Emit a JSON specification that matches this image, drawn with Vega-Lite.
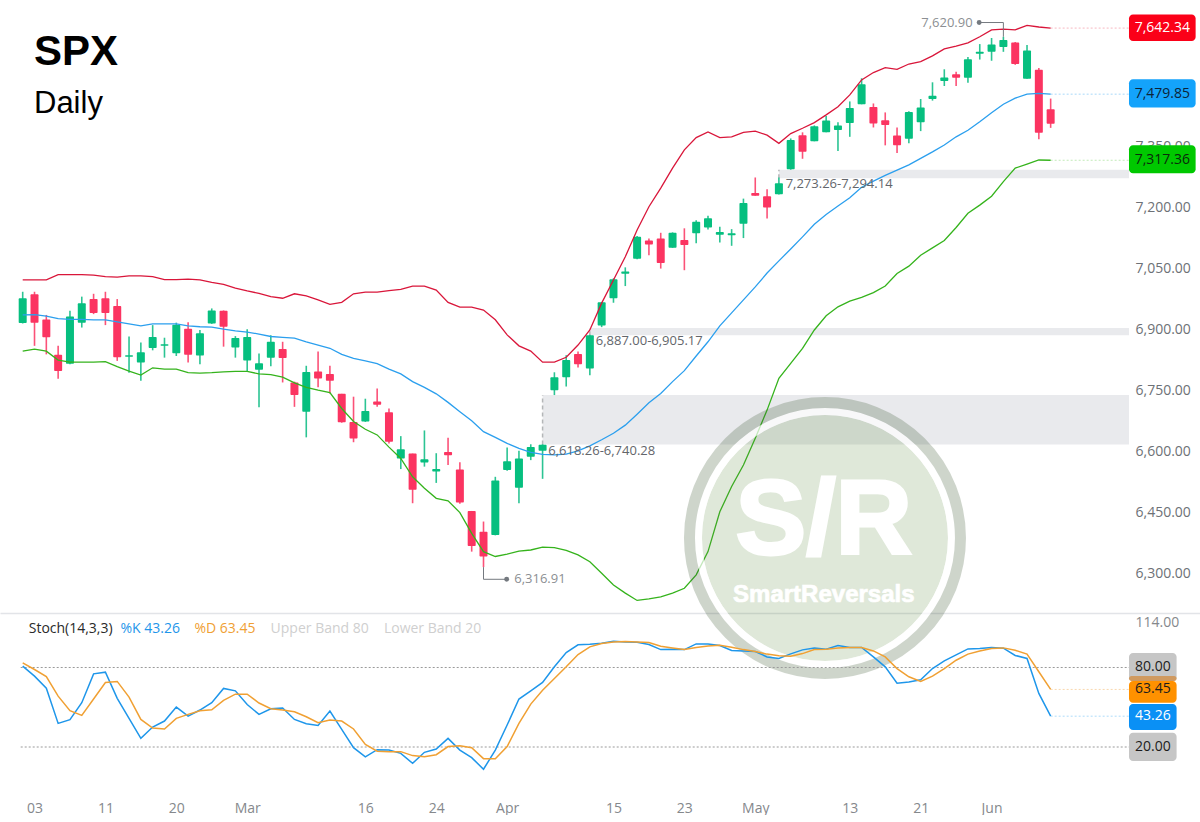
{
  "$schema": "https://vega.github.io/schema/vega-lite/v6.json",
  "padding": 0,
  "background": "white",
  "bounds": "flush",
  "spacing": 0,
  "config": {"view": {"stroke": null}, "font": "Open Sans"},
  "datasets": {
    "bars": [
      {"i":0,"o":6917,"h":6994,"l":6916,"c":6978,"dir":"up","upper":7023,"mid":6937,"lower":6848,"k":81.0,"d":83.5},
      {"i":1,"o":6988,"h":6994,"l":6861,"c":6918,"dir":"down","upper":7023,"mid":6938,"lower":6853,"k":73.5,"d":78.5},
      {"i":2,"o":6926,"h":6937,"l":6840,"c":6882,"dir":"down","upper":7023,"mid":6934,"lower":6848,"k":64.4,"d":73.2},
      {"i":3,"o":6839,"h":6861,"l":6780,"c":6799,"dir":"down","upper":7036,"mid":6928,"lower":6826,"k":37.8,"d":58.4},
      {"i":4,"o":6817,"h":6947,"l":6816,"c":6933,"dir":"up","upper":7036,"mid":6926,"lower":6821,"k":40.6,"d":47.4},
      {"i":5,"o":6918,"h":6982,"l":6906,"c":6966,"dir":"up","upper":7036,"mid":6926,"lower":6821,"k":53.4,"d":43.9},
      {"i":6,"o":6976,"h":6989,"l":6939,"c":6942,"dir":"down","upper":7035,"mid":6925,"lower":6821,"k":75.2,"d":56.2},
      {"i":7,"o":6978,"h":6994,"l":6912,"c":6942,"dir":"down","upper":7031,"mid":6925,"lower":6822,"k":76.5,"d":68.7},
      {"i":8,"o":6959,"h":6976,"l":6824,"c":6833,"dir":"down","upper":7030,"mid":6920,"lower":6810,"k":56.7,"d":69.5},
      {"i":9,"o":6834,"h":6884,"l":6795,"c":6838,"dir":"up","upper":7033,"mid":6915,"lower":6799,"k":41.6,"d":57.7},
      {"i":10,"o":6820,"h":6869,"l":6775,"c":6845,"dir":"up","upper":7033,"mid":6910,"lower":6789,"k":26.5,"d":40.8},
      {"i":11,"o":6856,"h":6912,"l":6850,"c":6883,"dir":"up","upper":7031,"mid":6915,"lower":6807,"k":35.1,"d":34.3},
      {"i":12,"o":6861,"h":6881,"l":6832,"c":6865,"dir":"up","upper":7024,"mid":6915,"lower":6804,"k":39.6,"d":33.6},
      {"i":13,"o":6843,"h":6918,"l":6836,"c":6913,"dir":"up","upper":7024,"mid":6915,"lower":6804,"k":50.1,"d":41.6},
      {"i":14,"o":6903,"h":6919,"l":6820,"c":6839,"dir":"down","upper":7025,"mid":6910,"lower":6795,"k":43.3,"d":44.6},
      {"i":15,"o":6837,"h":6900,"l":6816,"c":6892,"dir":"up","upper":7023,"mid":6908,"lower":6794,"k":47.9,"d":47.4},
      {"i":16,"o":6916,"h":6953,"l":6915,"c":6948,"dir":"up","upper":7017,"mid":6907,"lower":6795,"k":53.4,"d":48.1},
      {"i":17,"o":6947,"h":6948,"l":6859,"c":6908,"dir":"down","upper":7012,"mid":6902,"lower":6797,"k":64.2,"d":55.2},
      {"i":18,"o":6857,"h":6885,"l":6832,"c":6880,"dir":"up","upper":7003,"mid":6898,"lower":6798,"k":62.4,"d":59.9},
      {"i":19,"o":6825,"h":6902,"l":6797,"c":6883,"dir":"up","upper":6996,"mid":6895,"lower":6798,"k":52.1,"d":59.9},
      {"i":20,"o":6802,"h":6842,"l":6710,"c":6818,"dir":"up","upper":6990,"mid":6890,"lower":6792,"k":44.6,"d":53.2},
      {"i":21,"o":6832,"h":6887,"l":6811,"c":6871,"dir":"up","upper":6982,"mid":6884,"lower":6790,"k":48.9,"d":48.9},
      {"i":22,"o":6853,"h":6871,"l":6771,"c":6831,"dir":"down","upper":6978,"mid":6882,"lower":6784,"k":49.4,"d":47.9},
      {"i":23,"o":6771,"h":6773,"l":6711,"c":6740,"dir":"down","upper":6989,"mid":6880,"lower":6770,"k":40.8,"d":46.6},
      {"i":24,"o":6699,"h":6812,"l":6636,"c":6797,"dir":"up","upper":6984,"mid":6871,"lower":6759,"k":37.6,"d":42.8},
      {"i":25,"o":6798,"h":6847,"l":6759,"c":6781,"dir":"down","upper":6974,"mid":6863,"lower":6752,"k":36.3,"d":38.3},
      {"i":26,"o":6792,"h":6812,"l":6744,"c":6775,"dir":"down","upper":6963,"mid":6855,"lower":6746,"k":47.1,"d":40.3},
      {"i":27,"o":6743,"h":6743,"l":6672,"c":6673,"dir":"down","upper":6968,"mid":6840,"lower":6707,"k":33.3,"d":39.6},
      {"i":28,"o":6674,"h":6736,"l":6624,"c":6633,"dir":"down","upper":6989,"mid":6830,"lower":6675,"k":19.5,"d":33.6},
      {"i":29,"o":6675,"h":6731,"l":6674,"c":6701,"dir":"up","upper":6993,"mid":6824,"lower":6656,"k":12.5,"d":22.0},
      {"i":30,"o":6724,"h":6756,"l":6711,"c":6716,"dir":"down","upper":6993,"mid":6817,"lower":6642,"k":18.0,"d":16.8},
      {"i":31,"o":6698,"h":6707,"l":6621,"c":6625,"dir":"down","upper":6997,"mid":6804,"lower":6612,"k":17.7,"d":16.5},
      {"i":32,"o":6584,"h":6639,"l":6558,"c":6607,"dir":"up","upper":7000,"mid":6792,"lower":6584,"k":15.2,"d":16.5},
      {"i":33,"o":6596,"h":6596,"l":6474,"c":6507,"dir":"down","upper":7008,"mid":6773,"lower":6539,"k":7.7,"d":13.5},
      {"i":34,"o":6574,"h":6653,"l":6564,"c":6582,"dir":"up","upper":7008,"mid":6759,"lower":6511,"k":16.0,"d":12.7},
      {"i":35,"o":6552,"h":6597,"l":6524,"c":6558,"dir":"up","upper":6998,"mid":6743,"lower":6486,"k":18.5,"d":14.2},
      {"i":36,"o":6600,"h":6635,"l":6568,"c":6592,"dir":"down","upper":6968,"mid":6722,"lower":6480,"k":26.5,"d":20.3},
      {"i":37,"o":6557,"h":6575,"l":6473,"c":6476,"dir":"down","upper":6956,"mid":6699,"lower":6451,"k":17.7,"d":21.0},
      {"i":38,"o":6455,"h":6455,"l":6355,"c":6369,"dir":"down","upper":6956,"mid":6677,"lower":6400,"k":12.0,"d":19.5},
      {"i":39,"o":6404,"h":6429,"l":6316.91,"c":6343,"dir":"down","upper":6949,"mid":6650,"lower":6355,"k":3.2,"d":11.2},
      {"i":40,"o":6396,"h":6539,"l":6395,"c":6530,"dir":"up","upper":6925,"mid":6636,"lower":6343,"k":17.7,"d":11.2},
      {"i":41,"o":6556,"h":6611,"l":6554,"c":6577,"dir":"up","upper":6888,"mid":6621,"lower":6349,"k":36.6,"d":20.3},
      {"i":42,"o":6512,"h":6603,"l":6474,"c":6584,"dir":"up","upper":6861,"mid":6609,"lower":6356,"k":56.2,"d":37.8},
      {"i":43,"o":6588,"h":6619,"l":6580,"c":6612,"dir":"up","upper":6848,"mid":6599,"lower":6359,"k":62.4,"d":52.4},
      {"i":44,"o":6603,"h":6619,"l":6534,"c":6618,"dir":"up","upper":6821,"mid":6594,"lower":6366,"k":68.7,"d":62.9},
      {"i":45,"o":6752,"h":6796,"l":6740,"c":6784,"dir":"up","upper":6821,"mid":6593,"lower":6365,"k":80.5,"d":71.7},
      {"i":46,"o":6784,"h":6838,"l":6761,"c":6826,"dir":"up","upper":6833,"mid":6595,"lower":6358,"k":91.3,"d":80.5},
      {"i":47,"o":6841,"h":6847,"l":6808,"c":6816,"dir":"down","upper":6863,"mid":6603,"lower":6347,"k":97.1,"d":89.8},
      {"i":48,"o":6805,"h":6888,"l":6789,"c":6887,"dir":"up","upper":6900,"mid":6615,"lower":6330,"k":97.6,"d":95.6},
      {"i":49,"o":6911,"h":6969,"l":6907,"c":6968,"dir":"up","upper":6966,"mid":6630,"lower":6302,"k":98.3,"d":98.1},
      {"i":50,"o":6978,"h":7027,"l":6967,"c":7025,"dir":"up","upper":7023,"mid":6646,"lower":6273,"k":99.8,"d":99.3},
      {"i":51,"o":7038,"h":7054,"l":7008,"c":7044,"dir":"up","upper":7080,"mid":6666,"lower":6253,"k":99.3,"d":99.6},
      {"i":52,"o":7075,"h":7131,"l":7074,"c":7129,"dir":"up","upper":7146,"mid":6693,"lower":6235,"k":99.1,"d":99.3},
      {"i":53,"o":7120,"h":7125,"l":7084,"c":7110,"dir":"down","upper":7203,"mid":6721,"lower":6239,"k":97.3,"d":98.8},
      {"i":54,"o":7125,"h":7139,"l":7051,"c":7065,"dir":"down","upper":7249,"mid":6744,"lower":6244,"k":93.5,"d":96.1},
      {"i":55,"o":7102,"h":7140,"l":7102,"c":7139,"dir":"up","upper":7298,"mid":6773,"lower":6253,"k":93.8,"d":94.8},
      {"i":56,"o":7121,"h":7150,"l":7047,"c":7109,"dir":"down","upper":7343,"mid":6800,"lower":6265,"k":93.5,"d":93.5},
      {"i":57,"o":7138,"h":7170,"l":7113,"c":7166,"dir":"up","upper":7373,"mid":6836,"lower":6298,"k":97.8,"d":95.1},
      {"i":58,"o":7152,"h":7181,"l":7147,"c":7175,"dir":"up","upper":7387,"mid":6871,"lower":6355,"k":97.8,"d":96.3},
      {"i":59,"o":7134,"h":7154,"l":7115,"c":7141,"dir":"up","upper":7373,"mid":6910,"lower":6453,"k":96.6,"d":96.8},
      {"i":60,"o":7133,"h":7148,"l":7107,"c":7138,"dir":"up","upper":7375,"mid":6942,"lower":6515,"k":92.8,"d":95.3},
      {"i":61,"o":7161,"h":7223,"l":7126,"c":7212,"dir":"up","upper":7386,"mid":6974,"lower":6568,"k":92.5,"d":93.5},
      {"i":62,"o":7237,"h":7275,"l":7230,"c":7230,"dir":"down","upper":7389,"mid":7006,"lower":6634,"k":92.0,"d":92.0},
      {"i":63,"o":7229,"h":7246,"l":7174,"c":7201,"dir":"down","upper":7379,"mid":7040,"lower":6703,"k":88.0,"d":90.1},
      {"i":64,"o":7234,"h":7275,"l":7233,"c":7261,"dir":"up","upper":7359,"mid":7070,"lower":6781,"k":86.8,"d":88.8},
      {"i":65,"o":7295,"h":7371,"l":7294.14,"c":7367,"dir":"up","upper":7383,"mid":7099,"lower":6818,"k":90.3,"d":88.5},
      {"i":66,"o":7379,"h":7386,"l":7321,"c":7338,"dir":"down","upper":7396,"mid":7129,"lower":6855,"k":93.3,"d":90.5},
      {"i":67,"o":7364,"h":7403,"l":7364,"c":7401,"dir":"up","upper":7410,"mid":7160,"lower":6900,"k":94.8,"d":93.5},
      {"i":68,"o":7386,"h":7426,"l":7386,"c":7415,"dir":"up","upper":7429,"mid":7184,"lower":6935,"k":93.8,"d":93.8},
      {"i":69,"o":7392,"h":7411,"l":7340,"c":7403,"dir":"up","upper":7449,"mid":7205,"lower":6957,"k":96.6,"d":94.8},
      {"i":70,"o":7409,"h":7462,"l":7375,"c":7446,"dir":"up","upper":7478,"mid":7225,"lower":6971,"k":95.1,"d":95.1},
      {"i":71,"o":7455,"h":7519,"l":7455,"c":7504,"dir":"up","upper":7515,"mid":7251,"lower":6980,"k":95.1,"d":95.1},
      {"i":72,"o":7448,"h":7457,"l":7398,"c":7408,"dir":"down","upper":7533,"mid":7266,"lower":6992,"k":88.0,"d":92.5},
      {"i":73,"o":7416,"h":7435,"l":7354,"c":7404,"dir":"down","upper":7545,"mid":7280,"lower":7008,"k":80.5,"d":88.0},
      {"i":74,"o":7378,"h":7398,"l":7335,"c":7354,"dir":"down","upper":7541,"mid":7293,"lower":7039,"k":68.2,"d":79.2},
      {"i":75,"o":7370,"h":7438,"l":7359,"c":7436,"dir":"up","upper":7554,"mid":7306,"lower":7057,"k":69.0,"d":73.0},
      {"i":76,"o":7411,"h":7468,"l":7389,"c":7447,"dir":"up","upper":7560,"mid":7322,"lower":7084,"k":70.7,"d":69.5},
      {"i":77,"o":7468,"h":7509,"l":7464,"c":7476,"dir":"up","upper":7574,"mid":7338,"lower":7102,"k":79.2,"d":73.5},
      {"i":78,"o":7512,"h":7541,"l":7500,"c":7521,"dir":"up","upper":7591,"mid":7355,"lower":7120,"k":85.0,"d":79.2},
      {"i":79,"o":7529,"h":7535,"l":7500,"c":7520,"dir":"down","upper":7598,"mid":7375,"lower":7152,"k":89.5,"d":85.5},
      {"i":80,"o":7520,"h":7571,"l":7508,"c":7566,"dir":"up","upper":7606,"mid":7391,"lower":7187,"k":94.0,"d":90.1},
      {"i":81,"o":7579,"h":7603,"l":7565,"c":7584,"dir":"up","upper":7621,"mid":7412,"lower":7207,"k":94.3,"d":92.5},
      {"i":82,"o":7584,"h":7618,"l":7562,"c":7602,"dir":"up","upper":7638,"mid":7434,"lower":7229,"k":95.1,"d":94.3},
      {"i":83,"o":7596,"h":7620.9,"l":7584,"c":7613,"dir":"up","upper":7640,"mid":7455,"lower":7265,"k":94.6,"d":94.8},
      {"i":84,"o":7607,"h":7608,"l":7552,"c":7554,"dir":"down","upper":7638,"mid":7470,"lower":7298,"k":89.1,"d":93.0},
      {"i":85,"o":7518,"h":7601,"l":7518,"c":7587,"dir":"up","upper":7649,"mid":7480,"lower":7308,"k":86.8,"d":90.1},
      {"i":86,"o":7540,"h":7544,"l":7369,"c":7385,"dir":"down","upper":7645,"mid":7482,"lower":7318,"k":60.4,"d":76.8},
      {"i":87,"o":7443,"h":7469,"l":7397,"c":7407,"dir":"down","upper":7642.34,"mid":7479.85,"lower":7317.36,"k":43.26,"d":63.45}
    ],
    "zones": [
      {"i":44,"i2":93.63,"y1":6618.26,"y2":6740.28},
      {"i":48,"i2":93.63,"y1":6887.0,"y2":6905.17},
      {"i":64,"i2":93.63,"y1":7273.26,"y2":7294.14}
    ],
    "priceTags": [
      {"series":"upper","i":87,"edge":93.63,"i2":99.27,"price":7642.34,"top":7676,"bottom":7610.6,"label":"7,642.34","mid":96.45},
      {"series":"mid","i":87,"edge":93.63,"i2":99.27,"price":7479.85,"top":7516.5,"bottom":7447,"label":"7,479.85","mid":96.45},
      {"series":"lower","i":87,"edge":93.63,"i2":99.27,"price":7317.36,"top":7354.2,"bottom":7285.3,"label":"7,317.36","mid":96.45}
    ],
    "notes": [
      {"i":44.48,"price":6603.2,"label":"6,618.26-6,740.28"},
      {"i":48.5,"price":6872.2,"label":"6,887.00-6,905.17"},
      {"i":64.57,"price":7258.3,"label":"7,273.26-7,294.14"}
    ],
    "extremes": [
      {"dot":80.95,"corner":83,"level":7656,"end":7620.9},
      {"dot":40.96,"corner":39,"level":6287,"end":6316.91}
    ],
    "stochBands": [
      {"i":-0.17,"i2":93.63,"val":80},
      {"i":-0.17,"i2":93.63,"val":20}
    ],
    "stochTags": [
      {"tag":"band","i":93.63,"i2":97.66,"top":90.9,"bottom":69.8,"val":80,"label":"80.00","mid":95.65},
      {"tag":"overlap","i":93.63,"i2":97.66,"top":73.6,"bottom":69.8,"val":71.7,"label":"","mid":95.65},
      {"tag":"d","i":93.63,"i2":97.66,"top":69.8,"bottom":53.4,"val":63.45,"label":"63.45","mid":95.65},
      {"tag":"k","i":93.63,"i2":97.66,"top":52.5,"bottom":32.9,"val":43.26,"label":"43.26","mid":95.65},
      {"tag":"band","i":93.63,"i2":97.66,"top":30.8,"bottom":9.4,"val":20,"label":"20.00","mid":95.65}
    ],
    "stochExt": [
      {"line":"d","i":87,"i2":93.63,"val":63.45},
      {"line":"k","i":87,"i2":93.63,"val":43.26}
    ],
    "stochLegend": [
      {"i":0.51,"val":108.8,"label":"Stoch(14,3,3)","kind":"name"},
      {"i":8.28,"val":108.8,"label":"%K 43.26","kind":"k"},
      {"i":14.53,"val":108.8,"label":"%D 63.45","kind":"d"},
      {"i":20.98,"val":108.8,"label":"Upper Band 80","kind":"band"},
      {"i":30.57,"val":108.8,"label":"Lower Band 20","kind":"band"}
    ]
  },
  "vconcat": [
    {
      "width": 1200,
      "height": 613,
      "encoding": {
        "x": {
          "field": "i",
          "type": "quantitative",
          "scale": {"domain": [-1.921, 99.64], "nice": false, "zero": false, "padding": 0},
          "axis": {"labels": false, "ticks": false, "grid": false, "domain": true, "domainColor": "#e2e4e8", "domainWidth": 1.5, "title": null}
        }
      },
      "resolve": {"scale": {"color": "independent"}},
      "layer": [
        {
          "data": {"name": "zones"},
          "mark": {"type": "rect", "color": "#e9eaed"},
          "encoding": {
            "x2": {"field": "i2"},
            "y": {
              "field": "y1",
              "type": "quantitative",
              "scale": {"domain": [6204.1, 7711.4], "nice": false, "zero": false},
              "axis": {
                "orient": "right",
                "offset": -65,
                "values": [6300, 6450, 6600, 6750, 6900, 7050, 7200, 7350],
                "format": ",.2f",
                "domain": false,
                "ticks": false,
                "grid": false,
                "title": null,
                "labelPadding": 0,
                "labelAlign": "left",
                "labelFontSize": 14,
                "labelColor": "#6d7176",
                "labelFont": "Open Sans"
              }
            },
            "y2": {"field": "y2"}
          }
        },
        {
          "data": {"name": "zones"},
          "mark": {"type": "rule", "color": "#b4b6b8", "strokeWidth": 1.5, "strokeDash": [4, 3]},
          "encoding": {
            "y": {"field": "y1", "type": "quantitative"},
            "y2": {"field": "y2"}
          }
        },
        {
          "data": {"name": "priceTags"},
          "mark": {"type": "rule", "strokeWidth": 1, "strokeDash": [2, 2]},
          "encoding": {
            "x2": {"field": "edge"},
            "y": {"field": "price", "type": "quantitative"},
            "color": {"field": "series", "type": "nominal", "legend": null, "scale": {"domain": ["upper", "mid", "lower"], "range": ["#f7b8c2", "#a9d9f9", "#c2eab8"]}}
          }
        },
        {
          "data": {"name": "bars"},
          "mark": {"type": "rule", "strokeWidth": 1.6},
          "encoding": {
            "y": {"field": "h", "type": "quantitative"},
            "y2": {"field": "l"},
            "color": {"field": "dir", "type": "nominal", "legend": null, "scale": {"domain": ["up", "down"], "range": ["#2cc493", "#fb5278"]}}
          }
        },
        {
          "data": {"name": "bars"},
          "mark": {"type": "bar", "orient": "vertical", "size": 8, "cornerRadius": 1},
          "encoding": {
            "y": {"field": "o", "type": "quantitative"},
            "y2": {"field": "c"},
            "color": {"field": "dir", "type": "nominal", "legend": null, "scale": {"domain": ["up", "down"], "range": ["#06bf7f", "#fb3461"]}}
          }
        },
        {
          "data": {"name": "bars"},
          "mark": {"type": "line", "color": "#d9163a", "strokeWidth": 1.3},
          "encoding": {"y": {"field": "upper", "type": "quantitative"}}
        },
        {
          "data": {"name": "bars"},
          "mark": {"type": "line", "color": "#2b9fee", "strokeWidth": 1.3},
          "encoding": {"y": {"field": "mid", "type": "quantitative"}}
        },
        {
          "data": {"name": "bars"},
          "mark": {"type": "line", "color": "#35b31c", "strokeWidth": 1.3},
          "encoding": {"y": {"field": "lower", "type": "quantitative"}}
        },
        {
          "data": {"name": "notes"},
          "mark": {"type": "text", "align": "left", "baseline": "middle", "fontSize": 13, "font": "Open Sans", "color": "#63666b"},
          "encoding": {
            "y": {"field": "price", "type": "quantitative"},
            "text": {"field": "label"}
          }
        },
        {
          "data": {"name": "extremes"},
          "mark": {"type": "rule", "color": "#74797f", "strokeWidth": 1},
          "encoding": {
            "x": {"field": "dot", "type": "quantitative"},
            "x2": {"field": "corner"},
            "y": {"field": "level", "type": "quantitative"}
          }
        },
        {
          "data": {"name": "extremes"},
          "mark": {"type": "rule", "color": "#74797f", "strokeWidth": 1},
          "encoding": {
            "x": {"field": "corner", "type": "quantitative"},
            "y": {"field": "level", "type": "quantitative"},
            "y2": {"field": "end"}
          }
        },
        {
          "data": {"name": "extremes"},
          "mark": {"type": "point", "filled": true, "opacity": 1, "size": 24, "color": "#74797f"},
          "encoding": {
            "x": {"field": "dot", "type": "quantitative"},
            "y": {"field": "level", "type": "quantitative"}
          }
        },
        {
          "data": {"values": [{"i": 80.4, "level": 7656, "label": "7,620.90"}]},
          "mark": {"type": "text", "align": "right", "baseline": "middle", "fontSize": 13, "font": "Open Sans", "color": "#8c8f93"},
          "encoding": {
            "y": {"field": "level", "type": "quantitative"},
            "text": {"field": "label"}
          }
        },
        {
          "data": {"values": [{"i": 41.6, "level": 6287, "label": "6,316.91"}]},
          "mark": {"type": "text", "align": "left", "baseline": "middle", "fontSize": 13, "font": "Open Sans", "color": "#8c8f93"},
          "encoding": {
            "y": {"field": "level", "type": "quantitative"},
            "text": {"field": "label"}
          }
        },
        {
          "data": {"name": "priceTags"},
          "mark": {"type": "rect", "cornerRadius": 4},
          "encoding": {
            "x": {"field": "edge", "type": "quantitative"},
            "x2": {"field": "i2"},
            "y": {"field": "top", "type": "quantitative"},
            "y2": {"field": "bottom"},
            "color": {"field": "series", "type": "nominal", "legend": null, "scale": {"domain": ["upper", "mid", "lower"], "range": ["#fb0018", "#14a3fb", "#00c800"]}}
          }
        },
        {
          "data": {"name": "priceTags"},
          "mark": {"type": "text", "align": "center", "baseline": "middle", "fontSize": 14, "font": "Open Sans"},
          "encoding": {
            "x": {"field": "mid", "type": "quantitative"},
            "y": {"field": "price", "type": "quantitative"},
            "text": {"field": "label"},
            "color": {"field": "series", "type": "nominal", "legend": null, "scale": {"domain": ["upper", "mid", "lower"], "range": ["#ffffff", "#0d2438", "#0b2a0b"]}}
          }
        },
        {
          "data": {"values": [{"i": 67.9, "price": 6388.5}]},
          "mark": {"type": "point", "filled": true, "size": 60516, "color": "#5f8a3f", "opacity": 0.2},
          "encoding": {"y": {"field": "price", "type": "quantitative"}}
        },
        {
          "data": {"values": [{"i": 67.9, "price": 6388.5}]},
          "mark": {"type": "point", "filled": false, "size": 64000, "stroke": "#ffffff", "strokeWidth": 7, "opacity": 0.7},
          "encoding": {"y": {"field": "price", "type": "quantitative"}}
        },
        {
          "data": {"values": [{"i": 67.9, "price": 6388.5}]},
          "mark": {"type": "point", "filled": false, "size": 73441, "stroke": "#3f5a36", "strokeWidth": 11, "opacity": 0.25},
          "encoding": {"y": {"field": "price", "type": "quantitative"}}
        },
        {
          "data": {"values": [{"i": 67.8, "price": 6427.9, "label": "S/R"}]},
          "mark": {"type": "text", "align": "center", "baseline": "middle", "font": "Liberation Sans", "fontWeight": "bold", "fontSize": 106, "color": "#ffffff", "stroke": "#ffffff", "strokeWidth": 3},
          "encoding": {
            "y": {"field": "price", "type": "quantitative"},
            "text": {"field": "label"}
          }
        },
        {
          "data": {"values": [{"i": 67.8, "price": 6248.4, "label": "SmartReversals"}]},
          "mark": {"type": "text", "align": "center", "baseline": "middle", "font": "Liberation Sans", "fontWeight": "bold", "fontSize": 24, "color": "#ffffff", "stroke": "#ffffff", "strokeWidth": 0.7},
          "encoding": {
            "y": {"field": "price", "type": "quantitative"},
            "text": {"field": "label"}
          }
        },
        {
          "data": {"values": [{"i": 0.956, "price": 7583.6, "label": "SPX"}]},
          "mark": {"type": "text", "align": "left", "baseline": "middle", "font": "Liberation Sans", "fontWeight": "bold", "fontSize": 42, "color": "#000000"},
          "encoding": {
            "y": {"field": "price", "type": "quantitative"},
            "text": {"field": "label"}
          }
        },
        {
          "data": {"values": [{"i": 0.956, "price": 7456, "label": "Daily"}]},
          "mark": {"type": "text", "align": "left", "baseline": "middle", "font": "Liberation Sans", "fontSize": 31, "color": "#000000"},
          "encoding": {
            "y": {"field": "price", "type": "quantitative"},
            "text": {"field": "label"}
          }
        }
      ]
    },
    {
      "width": 1200,
      "height": 177,
      "encoding": {
        "x": {
          "field": "i",
          "type": "quantitative",
          "scale": {"domain": [-1.921, 99.64], "nice": false, "zero": false, "padding": 0},
          "axis": {
            "values": [1, 7, 13, 19, 29, 35, 41, 50, 56, 62, 70, 76, 82],
            "labelExpr": "{'1':'03','7':'11','13':'20','19':'Mar','29':'16','35':'24','41':'Apr','50':'15','56':'23','62':'May','70':'13','76':'21','82':'Jun'}[datum.value]",
            "labelFontSize": 14,
            "labelColor": "#85888c",
            "labelFont": "Open Sans",
            "labelPadding": 11,
            "labelOverlap": false,
            "labelFlush": false,
            "ticks": false,
            "domain": false,
            "grid": false,
            "title": null
          }
        }
      },
      "resolve": {"scale": {"color": "independent"}},
      "layer": [
        {
          "data": {"name": "stochBands"},
          "mark": {"type": "rule", "color": "#9a9a9a", "strokeWidth": 1, "strokeDash": [2, 2]},
          "encoding": {
            "x2": {"field": "i2"},
            "y": {
              "field": "val",
              "type": "quantitative",
              "scale": {"domain": [-12.45, 121.13], "nice": false, "zero": false},
              "axis": {
                "orient": "right",
                "offset": -65,
                "values": [114],
                "format": ".2f",
                "domain": false,
                "ticks": false,
                "grid": false,
                "title": null,
                "labelPadding": 0,
                "labelAlign": "left",
                "labelFontSize": 14,
                "labelColor": "#85888c",
                "labelFont": "Open Sans"
              }
            }
          }
        },
        {
          "data": {"name": "stochExt"},
          "mark": {"type": "rule", "strokeWidth": 1, "strokeDash": [2, 2]},
          "encoding": {
            "x2": {"field": "i2"},
            "y": {"field": "val", "type": "quantitative"},
            "color": {"field": "line", "type": "nominal", "legend": null, "scale": {"domain": ["k", "d"], "range": ["#aedcfa", "#f9d8ae"]}}
          }
        },
        {
          "data": {"name": "bars"},
          "mark": {"type": "line", "color": "#1e96ea", "strokeWidth": 1.5},
          "encoding": {"y": {"field": "k", "type": "quantitative"}}
        },
        {
          "data": {"name": "bars"},
          "mark": {"type": "line", "color": "#f0a033", "strokeWidth": 1.5},
          "encoding": {"y": {"field": "d", "type": "quantitative"}}
        },
        {
          "data": {"name": "stochTags"},
          "mark": {"type": "rect", "cornerRadius": 4},
          "encoding": {
            "x2": {"field": "i2"},
            "y": {"field": "top", "type": "quantitative"},
            "y2": {"field": "bottom"},
            "color": {"field": "tag", "type": "nominal", "legend": null, "scale": {"domain": ["band", "overlap", "d", "k"], "range": ["#c6c6c6", "#d09a60", "#ff9100", "#0a90f5"]}}
          }
        },
        {
          "data": {"name": "stochTags"},
          "mark": {"type": "text", "align": "center", "baseline": "middle", "fontSize": 14, "font": "Open Sans"},
          "encoding": {
            "x": {"field": "mid", "type": "quantitative"},
            "y": {"field": "val", "type": "quantitative"},
            "text": {"field": "label"},
            "color": {"field": "tag", "type": "nominal", "legend": null, "scale": {"domain": ["band", "overlap", "d", "k"], "range": ["#1c1c1c", "#1c1c1c", "#1c1c1c", "#ffffff"]}}
          }
        },
        {
          "data": {"name": "stochLegend"},
          "mark": {"type": "text", "align": "left", "baseline": "middle", "fontSize": 14, "font": "Open Sans"},
          "encoding": {
            "y": {"field": "val", "type": "quantitative"},
            "text": {"field": "label"},
            "color": {"field": "kind", "type": "nominal", "legend": null, "scale": {"domain": ["name", "k", "d", "band"], "range": ["#2a2a2a", "#1e96ea", "#f0a033", "#cfcfcf"]}}
          }
        }
      ]
    }
  ]
}
